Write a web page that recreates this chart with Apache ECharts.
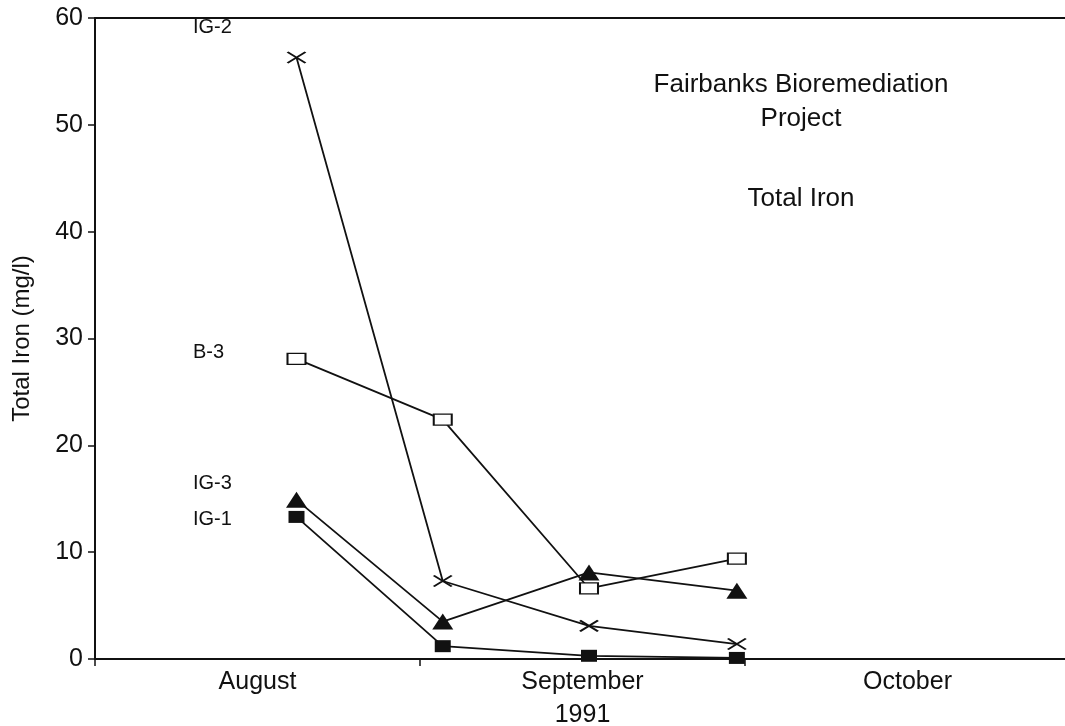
<!DOCTYPE html>
<html>
<head>
<meta charset="utf-8">
<script src="https://cdn.jsdelivr.net/npm/echarts@6/dist/echarts.min.js"></script>
<style>html,body{margin:0;padding:0;background:#fff}#chart{width:1065px;height:726px}</style>
</head>
<body>
<div id="chart"></div>
<script>
// Month categories along the x axis
var months = ['August', 'September\n1991', 'October'];
// Sample positions, in months after 1 August 1991
var sampleX = [0.62, 1.07, 1.52, 1.975];
// Total iron (mg/l) per well
var ig2 = [56.3, 7.3, 3.1, 1.4];
var b3  = [28.1, 22.4, 6.6, 9.4];
var ig3 = [14.9, 3.5, 8.1, 6.4];
var ig1 = [13.3, 1.2, 0.3, 0.1];
var yTicks = [0, 10, 20, 30, 40, 50, 60];

var FONT = 'Arial, "Liberation Sans", Helvetica, sans-serif';
function pairs(vals){ return vals.map(function(v,i){ return [sampleX[i], v]; }); }

var chart = echarts.init(document.getElementById('chart'));
var baseLine = { color: '#111', width: 1.8 };
chart.setOption({
  animation: false,
  backgroundColor: '#fff',
  grid: { left: 95, top: 18, width: 975, height: 641, containLabel: false, outerBoundsMode: 'none' },
  xAxis: [
    { type: 'category', data: months, position: 'bottom', boundaryGap: true,
      axisLine: { show: true, lineStyle: { color: '#111', width: 2 } },
      axisTick: { show: true, length: 7, inside: false, lineStyle: { color: '#111', width: 1.5 } },
      axisLabel: { fontFamily: FONT, fontSize: 25, color: '#111', margin: 7, lineHeight: 33 },
      splitLine: { show: false } },
    { type: 'value', min: 0, max: 3, position: 'top',
      axisLine: { show: true, onZero: false, lineStyle: { color: '#111', width: 2 } },
      axisTick: { show: false }, axisLabel: { show: false }, splitLine: { show: false } }
  ],
  yAxis: {
    type: 'value', min: yTicks[0], max: yTicks[yTicks.length-1], interval: 10,
    name: 'Total Iron (mg/l)', nameLocation: 'middle', nameGap: 61,
    nameTextStyle: { fontFamily: FONT, fontSize: 24, color: '#111' },
    axisLine: { show: true, lineStyle: { color: '#111', width: 2 } },
    axisTick: { show: true, length: 7, lineStyle: { color: '#111', width: 1.5 } },
    axisLabel: { fontFamily: FONT, fontSize: 25, color: '#111', margin: 12 },
    splitLine: { show: false }
  },
  series: [
    { name: 'IG-2', type: 'line', xAxisIndex: 1, data: pairs(ig2), lineStyle: baseLine,
      symbol: 'path://M0,0L10,6M10,0L0,6', symbolSize: [18, 11], showAllSymbol: true,
      itemStyle: { color: 'none', borderColor: '#111', borderWidth: 2 } },
    { name: 'B-3', type: 'line', xAxisIndex: 1, data: pairs(b3), lineStyle: baseLine,
      symbol: 'rect', symbolSize: [18, 11],
      itemStyle: { color: '#fff', borderColor: '#111', borderWidth: 1.6 } },
    { name: 'IG-3', type: 'line', xAxisIndex: 1, data: pairs(ig3), lineStyle: baseLine,
      symbol: 'triangle', symbolSize: [21, 16],
      itemStyle: { color: '#111', borderColor: '#111', borderWidth: 0 } },
    { name: 'IG-1', type: 'line', xAxisIndex: 1, data: pairs(ig1), lineStyle: baseLine,
      symbol: 'rect', symbolSize: [16, 12],
      itemStyle: { color: '#111', borderColor: '#111', borderWidth: 0 } }
  ],
  graphic: [
    { type: 'text', left: 193, top: 17, style: { text: 'IG-2', fontFamily: FONT, fontSize: 20, fill: '#111' } },
    { type: 'text', left: 193, top: 342, style: { text: 'B-3', fontFamily: FONT, fontSize: 20, fill: '#111' } },
    { type: 'text', left: 193, top: 473, style: { text: 'IG-3', fontFamily: FONT, fontSize: 20, fill: '#111' } },
    { type: 'text', left: 193, top: 509, style: { text: 'IG-1', fontFamily: FONT, fontSize: 20, fill: '#111' } },
    { type: 'text', x: 801, y: 68, style: { text: 'Fairbanks Bioremediation\nProject', fontFamily: FONT, fontSize: 26, fill: '#111', textAlign: 'center', lineHeight: 34 } },
    { type: 'text', x: 801, y: 186, style: { text: 'Total Iron', fontFamily: FONT, fontSize: 26, fill: '#111', textAlign: 'center' } }
  ]
});
</script>
</body>
</html>
